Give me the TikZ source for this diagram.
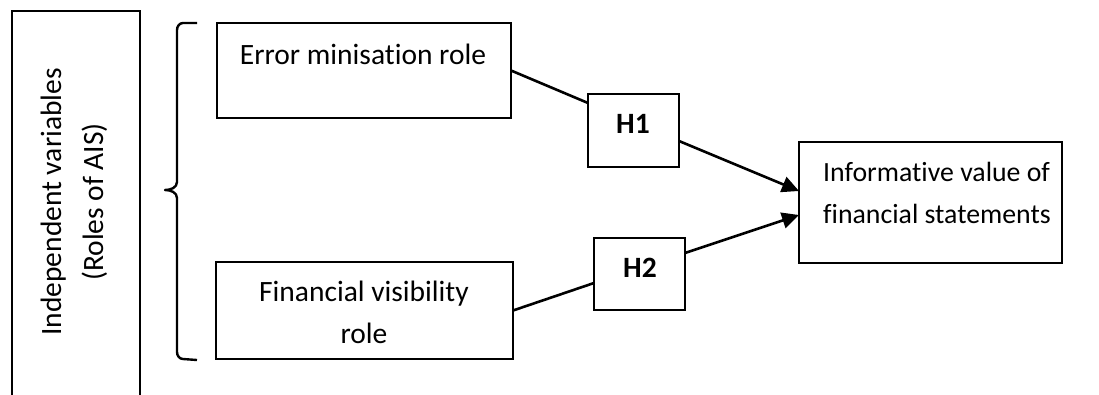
\documentclass[tikz,border=0pt]{standalone}
\usepackage{fontspec}
\setmainfont{Carlito}[Ligatures=NoCommon]
\usetikzlibrary{calc,arrows.meta}
\begin{document}
\begin{tikzpicture}[x=1pt,y=-1pt,
  box/.style={draw=black,line width=2.6pt,inner sep=0pt,outer sep=0pt,anchor=north west},
  txt/.style={font=\fontsize{29.5}{42}\selectfont,inner sep=0pt,anchor=base},
  conn/.style={draw=black,line width=2.6pt},
  arr/.style={conn,-{Triangle[length=17pt,width=16pt]}}]
\useasboundingbox (0,0) rectangle (1099,394);
% left open box
\draw[line width=2.6pt] (12,396) -- (12,11) -- (140,11) -- (140,396);
\node[font=\fontsize{29.5}{42}\selectfont,align=center,rotate=90,inner sep=0pt] (iv) at (74,202) {Independent variables\\(Roles of AIS)};
% brace
\draw[line width=2.4pt,line join=round] (197,23) -- (183,23) to[out=180,in=90] (177,30) -- (177,182)
  to[out=-90,in=0] (165,190) to[out=0,in=90] (177,198) -- (177,352) to[out=-90,in=180] (183,359) -- (197,360);
% boxes
\node[box,minimum width=294pt,minimum height=95pt] (err) at (217,23) {};
\node[txt] (errt) at (363,64) {Error minisation role};
\node[box,minimum width=297pt,minimum height=97pt] (fin) at (216,262) {};
\node[txt] (fint1) at (364,301) {Financial visibility};
\node[txt] (fint2) at (364,343) {role};
\node[box,minimum width=91pt,minimum height=73pt] (h1) at (588,94) {};
\node[txt,font=\fontsize{29.5}{42}\selectfont\bfseries] (h1t) at (633,133) {H1};
\node[box,minimum width=91pt,minimum height=72pt] (h2) at (594,238) {};
\node[txt,font=\fontsize{29.5}{42}\selectfont\bfseries] (h2t) at (640,277) {H2};
\node[box,minimum width=263pt,minimum height=121pt] (inf) at (799,142) {};
\node[txt,anchor=base west,font=\fontsize{27.8}{42}\selectfont] (inft1) at (823,181) {Informative value of};
\node[txt,anchor=base west,font=\fontsize{27.8}{42}\selectfont] (inft2) at (823,223) {financial statements};
% connectors
\draw[conn] (err.east) -- ($(h1.north west)+(0,9)$);
\draw[conn] (fin.east) -- ($(h2.north west)+(0,45)$);
\draw[arr] ($(h1.north east)+(0,47)$) -- ($(inf.north west)+(0,49)$);
\draw[arr] ($(h2.north east)+(0,15)$) -- ($(inf.north west)+(0,73)$);
\end{tikzpicture}
\end{document}
